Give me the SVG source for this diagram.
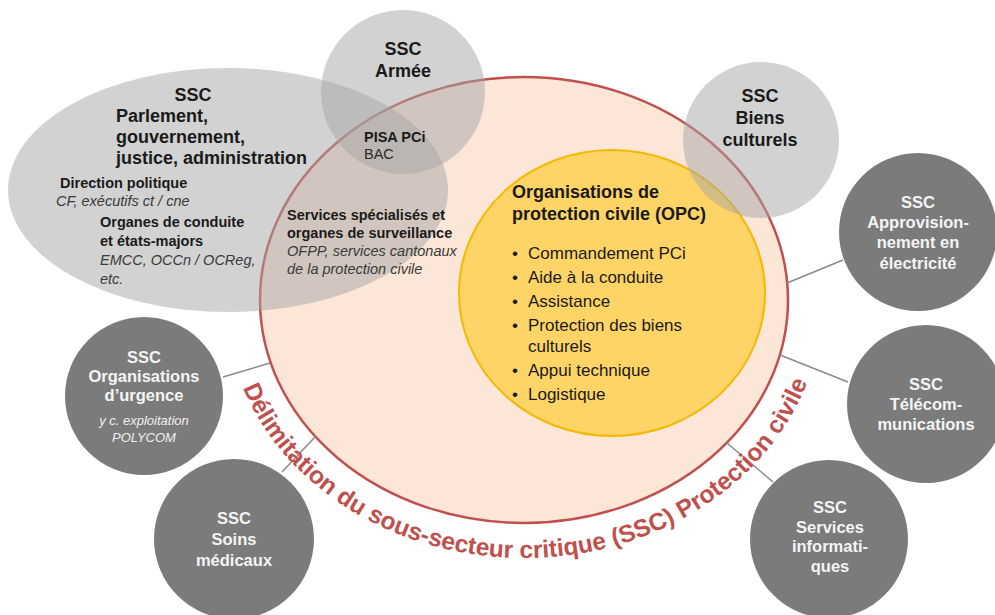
<svg xmlns="http://www.w3.org/2000/svg" width="995" height="615" viewBox="0 0 995 615">
<style>
text{font-family:"Liberation Sans",Arial,sans-serif;}
.ttl{font-size:18px;font-weight:bold;fill:#1a1a1a;}
.sm{font-size:14.5px;font-weight:bold;fill:#1a1a1a;}
.smi{font-size:14.5px;font-style:italic;fill:#3a3a3a;}
.smr{font-size:14.5px;fill:#2a2a2a;}
.blt{font-size:17px;fill:#1a1a1a;}
.dk{font-size:16.5px;font-weight:bold;fill:#f4f4f4;text-anchor:middle;}
.dki{font-size:13px;font-style:italic;fill:#f0f0f0;text-anchor:middle;}
.lite{fill:#a5a5a5;fill-opacity:0.5;}
.dark{fill:#7b7b7b;}
.conn line{stroke:#8a8a8a;stroke-width:1.5;}
.arc{font-size:24.5px;font-weight:bold;fill:#c0504d;}
</style>
<defs>
<path id="arcPath" d="M 225 300 A 299 258 0 0 0 823 300"/>
</defs>
<rect width="995" height="615" fill="#ffffff"/>

<g id="ssc-protection-civile">
<ellipse cx="524" cy="300" rx="264" ry="223" fill="#fce6d8" stroke="#c0504d" stroke-width="2.5"/>
</g>
<g id="opc">
<ellipse cx="612" cy="293" rx="153" ry="143" fill="#ffd466" stroke="#f4b800" stroke-width="2"/>
</g>

<g id="connectors" class="conn">
<line x1="223" y1="377" x2="270" y2="363"/>
<line x1="282" y1="472" x2="316" y2="436"/>
<line x1="787" y1="283" x2="843" y2="260"/>
<line x1="780" y1="355" x2="848" y2="382"/>
<line x1="727" y1="443" x2="773" y2="482"/>
</g>

<g id="ssc-organisations-urgence">
<circle class="dark" cx="144" cy="396" r="79"/>
<text class="dk" x="144" y="363">SSC</text>
<text class="dk" x="144" y="382">Organisations</text>
<text class="dk" x="144" y="401">d’urgence</text>
<text class="dki" x="144" y="425">y c. exploitation</text>
<text class="dki" x="144" y="442">POLYCOM</text>
</g>
<g id="ssc-soins-medicaux">
<circle class="dark" cx="234" cy="539" r="80"/>
<text class="dk" x="234" y="524">SSC</text>
<text class="dk" x="234" y="545">Soins</text>
<text class="dk" x="234" y="566">médicaux</text>
</g>
<g id="ssc-electricite">
<circle class="dark" cx="918" cy="232" r="79"/>
<text class="dk" x="918" y="208">SSC</text>
<text class="dk" x="918" y="228">Approvision-</text>
<text class="dk" x="918" y="248">nement en</text>
<text class="dk" x="918" y="269">électricité</text>
</g>
<g id="ssc-telecom">
<circle class="dark" cx="926" cy="404" r="79"/>
<text class="dk" x="926" y="390">SSC</text>
<text class="dk" x="926" y="410">Télécom-</text>
<text class="dk" x="926" y="430">munications</text>
</g>
<g id="ssc-informatique">
<circle class="dark" cx="829" cy="539" r="79"/>
<text class="dk" x="830" y="513">SSC</text>
<text class="dk" x="830" y="533">Services</text>
<text class="dk" x="830" y="552">informati-</text>
<text class="dk" x="830" y="572">ques</text>
</g>

<g id="ssc-parlement">
<ellipse class="lite" cx="228" cy="190" rx="220" ry="122"/>
</g>
<g id="ssc-armee">
<circle class="lite" cx="403" cy="92" r="82"/>
<text class="ttl" x="403" y="55" text-anchor="middle">SSC</text>
<text class="ttl" x="403" y="77" text-anchor="middle">Armée</text>
</g>
<g id="ssc-biens-culturels">
<circle class="lite" cx="761" cy="140" r="78"/>
<text class="ttl" x="760" y="102" text-anchor="middle">SSC</text>
<text class="ttl" x="760" y="124" text-anchor="middle">Biens</text>
<text class="ttl" x="760" y="146" text-anchor="middle">culturels</text>
</g>

<g id="parlement-text">
<text class="ttl" x="193" y="101" text-anchor="middle">SSC</text>
<text class="ttl" x="116" y="122">Parlement,</text>
<text class="ttl" x="116" y="143">gouvernement,</text>
<text class="ttl" x="116" y="164">justice, administration</text>
<text class="sm" x="60" y="188">Direction politique</text>
<text class="smi" x="56" y="206">CF, exécutifs ct / cne</text>
<text class="sm" x="100" y="227">Organes de conduite</text>
<text class="sm" x="100" y="246">et états-majors</text>
<text class="smi" x="100" y="265">EMCC, OCCn / OCReg,</text>
<text class="smi" x="100" y="284">etc.</text>
</g>

<g id="pisa">
<text class="sm" x="364" y="142">PISA PCi</text>
<text class="smr" x="364" y="159">BAC</text>
</g>

<g id="services-specialises">
<text class="sm" x="287" y="220">Services spécialisés et</text>
<text class="sm" x="287" y="238">organes de surveillance</text>
<text class="smi" x="287" y="256">OFPP, services cantonaux</text>
<text class="smi" x="287" y="274">de la protection civile</text>
</g>

<g id="opc-text">
<text class="ttl" x="512" y="198">Organisations de</text>
<text class="ttl" x="512" y="220">protection civile (OPC)</text>
<text class="blt" y="259"><tspan x="512">•</tspan><tspan x="528">Commandement PCi</tspan></text>
<text class="blt" y="283"><tspan x="512">•</tspan><tspan x="528">Aide à la conduite</tspan></text>
<text class="blt" y="307"><tspan x="512">•</tspan><tspan x="528">Assistance</tspan></text>
<text class="blt" y="331"><tspan x="512">•</tspan><tspan x="528">Protection des biens</tspan></text>
<text class="blt" x="528" y="352">culturels</text>
<text class="blt" y="376"><tspan x="512">•</tspan><tspan x="528">Appui technique</tspan></text>
<text class="blt" y="400"><tspan x="512">•</tspan><tspan x="528">Logistique</tspan></text>
</g>

<g id="delimitation-label">
<text class="arc"><textPath href="#arcPath" startOffset="441" text-anchor="middle">Délimitation du sous-secteur critique (SSC) Protection civile</textPath></text>
</g>
</svg>
